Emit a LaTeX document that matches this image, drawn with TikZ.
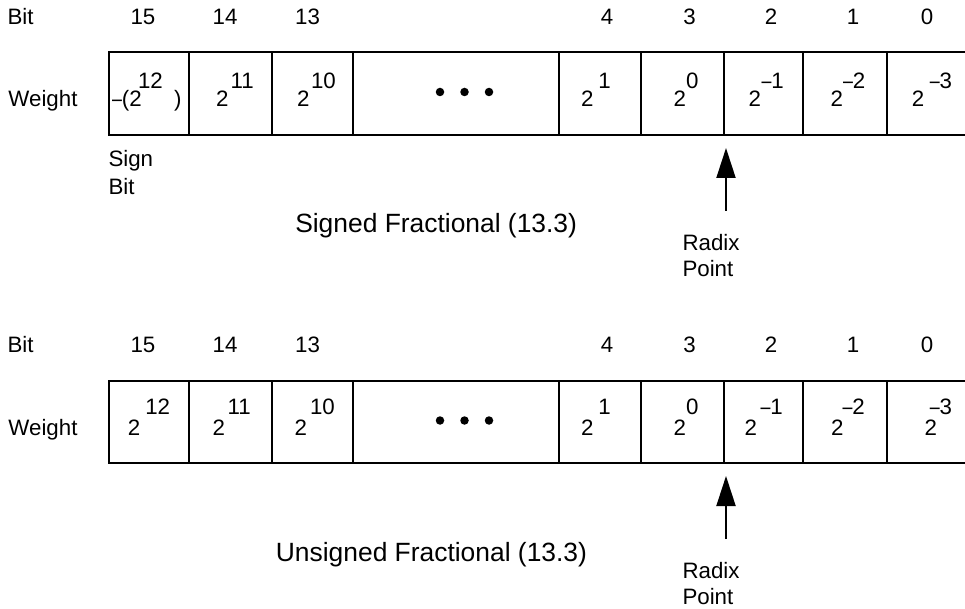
\documentclass[tikz,border=0pt]{standalone}
\usepackage{fontspec}
\setmainfont{Liberation Sans}
\usetikzlibrary{arrows.meta}

% short minus sign used in the weights
\newcommand\negsign{\scalebox{0.8}[1]{\textendash}}

\tikzset{
  lbl/.style={inner sep=0pt, outer sep=0pt, font=\fontsize{22.3}{26}\selectfont},
  ttl/.style={inner sep=0pt, outer sep=0pt, font=\fontsize{26.4}{30}\selectfont},
  cell/.style={draw, line width=2pt, inner sep=0pt, outer sep=0pt},
  dotmark/.style={circle, fill, inner sep=0pt, minimum size=8.5pt},
  radix/.style={line width=2pt, -{Triangle[width=19pt,length=30pt]}}
}

\begin{document}
\begin{tikzpicture}[x=1pt, y=-1pt]
\useasboundingbox (0,0) rectangle (965,609);

% ---------- Signed register ----------
\node[lbl, anchor=base west] (sbit) at (7.5,25) {Bit};
\foreach \nm/\cx in {15/143, 14/225, 13/307.5, 4/607, 3/689.5, 2/771, 1/853, 0/927}
  \node[lbl, anchor=base] (sn\nm) at (\cx,25) {\nm};
\node[lbl, anchor=base west] (sweight) at (8.5,106.7) {Weight};

\foreach \nm/\xa/\xb in {c15/109/189, c14/189/272, c13/272/353, cdots/353/559,
                         c4/559/641, c3/641/724, c2/724/803, c1/803/887, c0/887/968}
  \node[cell, minimum width={\xb-\xa}, minimum height=83pt] (s\nm) at ({(\xa+\xb)/2},93.5) {};

% weights, base and exponent set separately
\node[lbl, anchor=base west] (sw15) at (112,106.7) {\negsign(2};
\node[lbl, anchor=base west] (se15) at (138,88.5) {12};
\node[lbl, anchor=base west] (sp15) at (174,106.7) {)};
\foreach \nm/\bx/\ex/\ev in {14/216/230.5/11, 13/297/311/10, 4/581/598.3/1, 3/673.5/686/0,
                             2/748.5/761.5/\negsign1, 1/830.5/843/\negsign2, 0/911.8/929.8/\negsign3} {
  \node[lbl, anchor=base west] (sw\nm) at (\bx,106.7) {2};
  \node[lbl, anchor=base west] (se\nm) at (\ex,88.5) {\ev};
}
\node[dotmark] (sd1) at (440,92) {};
\node[dotmark] (sd2) at (464.5,92) {};
\node[dotmark] (sd3) at (489,92) {};

\node[lbl, anchor=base west] (ssign1) at (108.5,166.7) {Sign};
\node[lbl, anchor=base west] (ssign2) at (108.5,195) {Bit};

\node[ttl, anchor=base east] (stitle) at (577,233) {Signed Fractional (13.3)};

\coordinate (sarrowfoot) at (726,211);
\coordinate (sarrowtip) at (726,148);
\draw[radix] (sarrowfoot) -- (sarrowtip);
\node[lbl, anchor=base west] (sradix1) at (682.5,250.7) {Radix};
\node[lbl, anchor=base west] (sradix2) at (682.5,276.7) {Point};

% ---------- Unsigned register ----------
\node[lbl, anchor=base west] (ubit) at (7.5,352.7) {Bit};
\foreach \nm/\cx in {15/143, 14/225, 13/307.5, 4/607, 3/689.5, 2/771, 1/853, 0/927}
  \node[lbl, anchor=base] (un\nm) at (\cx,352.7) {\nm};
\node[lbl, anchor=base west] (uweight) at (8.5,435) {Weight};

\foreach \nm/\xa/\xb in {c15/109/189, c14/189/272, c13/272/353, cdots/353/559,
                         c4/559/641, c3/641/724, c2/724/803, c1/803/887, c0/887/968}
  \node[cell, minimum width={\xb-\xa}, minimum height=82pt] (u\nm) at ({(\xa+\xb)/2},422) {};

\foreach \nm/\bx/\ex/\ev in {15/127.8/145.3/12, 14/212.5/227.6/11, 13/294.5/310/10, 4/581/598.3/1,
                             3/673.5/686/0, 2/744.5/760.5/\negsign1, 1/831.2/842.5/\negsign2,
                             0/924.5/929.8/\negsign3} {
  \node[lbl, anchor=base west] (uw\nm) at (\bx,435) {2};
  \node[lbl, anchor=base west] (ue\nm) at (\ex,414.5) {\ev};
}
\node[dotmark] (ud1) at (440,420.5) {};
\node[dotmark] (ud2) at (464.5,420.5) {};
\node[dotmark] (ud3) at (489,420.5) {};

\node[ttl, anchor=base east] (utitle) at (587,561) {Unsigned Fractional (13.3)};

\coordinate (uarrowfoot) at (726,539);
\coordinate (uarrowtip) at (726,476);
\draw[radix] (uarrowfoot) -- (uarrowtip);
\node[lbl, anchor=base west] (uradix1) at (682.5,578) {Radix};
\node[lbl, anchor=base west] (uradix2) at (682.5,604.5) {Point};
\end{tikzpicture}
\end{document}
